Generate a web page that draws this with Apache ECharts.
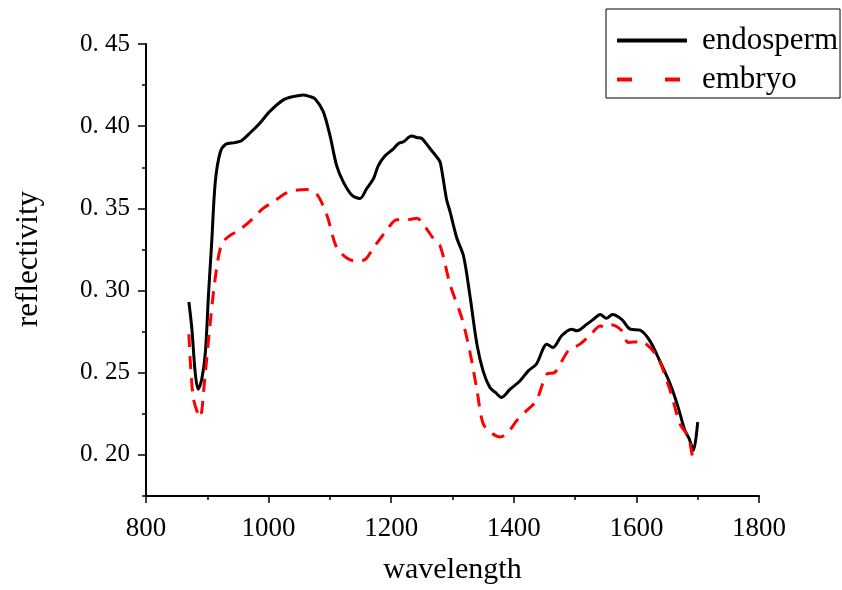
<!DOCTYPE html>
<html>
<head>
<meta charset="utf-8">
<script src="https://cdn.jsdelivr.net/npm/echarts@6/dist/echarts.min.js"></script>
<style>html,body{margin:0;padding:0;background:#fff}#c{width:842px;height:590px}</style>
</head>
<body>
<div id="c"></div>
<script>
const seriesNames = ['endosperm', 'embryo'];

const endospermWavelength = [870,875,880,885,891,897,902,907,913,921,930,945,955,970,986,1002,1024,1040,1057,1068,1076,1089,1100,1111,1122,1136,1149,1160,1171,1179,1190,1203,1212,1220,1233,1243,1250,1261,1274,1280,1290,1296,1307,1318,1328,1340,1350,1361,1370,1380,1394,1410,1424,1437,1454,1464,1478,1494,1503,1519,1530,1541,1551,1561,1576,1590,1606,1622,1638,1655,1668,1679,1686,1693,1700];
const endospermReflectivity = [0.293,0.276,0.251,0.240,0.246,0.263,0.298,0.328,0.366,0.384,0.389,0.390,0.391,0.396,0.402,0.409,0.416,0.418,0.419,0.418,0.4165,0.409,0.3945,0.376,0.366,0.358,0.356,0.362,0.368,0.376,0.382,0.386,0.3895,0.3905,0.394,0.393,0.3925,0.3875,0.3814,0.378,0.356,0.348,0.332,0.321,0.298,0.267,0.251,0.241,0.238,0.235,0.240,0.245,0.2513,0.2553,0.2674,0.2654,0.2725,0.2765,0.2755,0.2795,0.2825,0.2855,0.2831,0.2855,0.2825,0.2765,0.2759,0.2694,0.2573,0.2432,0.2291,0.215,0.2099,0.2028,0.220];

const embryoWavelength = [870,877,888,896,904,913,923,935,953,972,991,1008,1027,1045,1062,1078,1095,1111,1127,1141,1157,1171,1187,1195,1209,1225,1242,1255,1268,1280,1296,1315,1328,1340,1350,1365,1378,1391,1405,1421,1437,1454,1467,1489,1508,1525,1541,1551,1560,1575,1587,1606,1633,1655,1671,1685,1693,1698];
const embryoReflectivity = [0.2734,0.235,0.223,0.247,0.2775,0.3078,0.328,0.333,0.337,0.343,0.350,0.354,0.359,0.361,0.3615,0.359,0.346,0.326,0.320,0.318,0.3188,0.326,0.334,0.338,0.343,0.343,0.344,0.339,0.332,0.327,0.3037,0.2835,0.2634,0.2392,0.219,0.213,0.2109,0.2139,0.221,0.227,0.2331,0.2492,0.2502,0.2634,0.2674,0.273,0.2785,0.2775,0.2791,0.276,0.2684,0.269,0.2603,0.2392,0.219,0.2109,0.1988,0.200];

const xTickLabels = [800,1000,1200,1400,1600,1800];
const yTickLabels = [0.20,0.25,0.30,0.35,0.40,0.45];

const zip = (a, b) => a.map((v, i) => [v, b[i]]);
const FONT = "'Liberation Serif', 'Times New Roman', serif";
const hiddenSymbol = {color: 'rgba(0,0,0,0)', borderWidth: 0, opacity: 0};

const chart = echarts.init(document.getElementById('c'), null, {renderer: 'canvas'});
chart.setOption({
  animation: false,
  backgroundColor: '#fff',
  grid: {left: 146, right: 83, top: 44, bottom: 91, containLabel: false},
  legend: {
    orient: 'vertical',
    left: 606, top: 9,
    borderColor: '#000', borderWidth: 1,
    padding: [16, 2, 3, 9],
    itemWidth: 70, itemHeight: 14, itemGap: 8,
    itemStyle: hiddenSymbol,
    textStyle: {fontFamily: FONT, fontSize: 31, color: '#000', padding: [0, 0, 0, 10]},
    data: [
      {name: seriesNames[0], itemStyle: hiddenSymbol, lineStyle: {width: 4}},
      {name: seriesNames[1], itemStyle: hiddenSymbol, lineStyle: {width: 4, type: [15, 33]}}
    ]
  },
  xAxis: [{
    type: 'value', position: 'bottom', min: 800, max: 1800, interval: 200,
    name: 'wavelength', nameLocation: 'middle', nameGap: 59,
    nameTextStyle: {fontFamily: FONT, fontSize: 30, color: '#000'},
    axisLine: {show: true, lineStyle: {color: '#000', width: 2}},
    axisTick: {show: true, inside: false, length: 7, lineStyle: {color: '#000', width: 1.5}},
    minorTick: {show: true, splitNumber: 2, length: 4, lineStyle: {color: '#000', width: 1.5}},
    axisLabel: {customValues: xTickLabels, fontFamily: FONT, fontSize: 27, color: '#000', margin: 19,
      formatter: v => String(Math.round(v))},
    splitLine: {show: false}
  }],
  yAxis: [{
    type: 'value', position: 'left', min: 0.175, max: 0.45, interval: 0.025,
    name: 'reflectivity', nameLocation: 'middle', nameGap: 102, nameRotate: 90,
    nameTextStyle: {fontFamily: FONT, fontSize: 31, color: '#000', padding: [0, 0, 0, 22]},
    axisLine: {show: true, lineStyle: {color: '#000', width: 2}},
    axisTick: {show: true, inside: false, length: 4, lineStyle: {color: '#000', width: 1.5}},
    axisLabel: {customValues: yTickLabels, fontFamily: FONT, fontSize: 25, color: '#000', margin: 16,
      padding: [4, 0, 0, 0],
      formatter: v => v.toFixed(2).replace('.', '. ')},
    splitLine: {show: false}
  }, {
    type: 'value', position: 'left', min: 0.175, max: 0.45, interval: 0.025,
    axisLine: {show: false},
    axisTick: {show: true, inside: false, length: 8, customValues: yTickLabels, lineStyle: {color: '#000', width: 1.5}},
    axisLabel: {show: false},
    splitLine: {show: false}
  }],
  series: [{
    name: seriesNames[0], type: 'line', xAxisIndex: 0, yAxisIndex: 0,
    data: zip(endospermWavelength, endospermReflectivity),
    smooth: 0.3, symbol: 'none', showSymbol: false,
    lineStyle: {color: '#000', width: 3},
    itemStyle: {color: '#000'}
  }, {
    name: seriesNames[1], type: 'line', xAxisIndex: 0, yAxisIndex: 0,
    data: zip(embryoWavelength, embryoReflectivity),
    smooth: 0.3, symbol: 'none', showSymbol: false,
    lineStyle: {color: '#ff0000', width: 3, type: [13, 9]},
    itemStyle: {color: '#ff0000'}
  }]
});
</script>
</body>
</html>
